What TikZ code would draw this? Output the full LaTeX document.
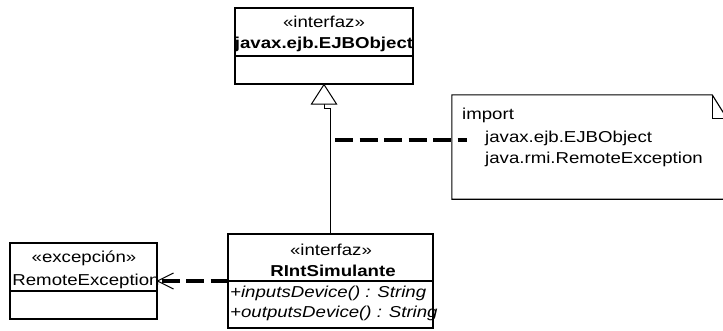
\documentclass[tikz,border=0pt]{standalone}
\usepackage{fontspec}
\setmainfont{Liberation Sans}[FakeStretch=1.18]
\usetikzlibrary{calc}

\begin{document}
\begin{tikzpicture}[x=1pt,y=-1pt,
  classbox/.style={draw, line width=1.1pt, inner sep=0pt},
  lbl/.style={inner sep=0pt, font=\fontsize{15.8}{19}\selectfont},
  rule/.style={line width=1.1pt},
  depline/.style={line width=4.5pt, dash pattern=on 18pt off 6.5pt},
  thin line/.style={line width=1pt}
]
\useasboundingbox (0,0) rectangle (723,330);
\fill[white] (0,0) rectangle (723,330);
\clip (0,0) rectangle (723,330);

% --- interface javax.ejb.EJBObject ---
\node[classbox, minimum width=178pt, minimum height=76pt] (ejb) at (324,46) {};
\draw[rule] (ejb.west |- 0,56) -- (ejb.east |- 0,56);
\node[lbl, anchor=base] (ejbst) at (324,27) {«interfaz»};
\node[lbl, anchor=base, font=\fontsize{15.8}{19}\selectfont\bfseries] (ejbname) at (324,48) {javax.ejb.EJBObject};

% --- interface RIntSimulante ---
\node[classbox, minimum width=205pt, minimum height=94pt] (rint) at (330.5,281) {};
\draw[rule] (rint.west) -- (rint.east);
\node[lbl, anchor=base] (rintst) at (331,255) {«interfaz»};
\node[lbl, anchor=base, font=\fontsize{15.8}{19}\selectfont\bfseries] (rintname) at (333,276) {RIntSimulante};
\node[lbl, anchor=base west, font=\fontsize{15.8}{19}\selectfont\itshape] (op1) at (230,297) {+inputsDevice() : String};
\node[lbl, anchor=base west, font=\fontsize{15.8}{19}\selectfont\itshape] (op2) at (230,317) {+outputsDevice() : String};

% --- exception RemoteException ---
\node[classbox, minimum width=147pt, minimum height=76pt] (exc) at (83.5,281) {};
\draw[rule] (exc.west |- 0,291) -- (exc.east |- 0,291);
\node[lbl, anchor=base] (excst) at (84,262) {«excepción»};
\node[lbl, anchor=base] (excname) at (86,285) {RemoteException};

% --- note with folded corner ---
\node[inner sep=0pt, minimum width=275pt, minimum height=104pt] (note) at (589.5,147) {};
\draw[rule] (note.north west) -- ([xshift=-15pt]note.north east)
  -- ([yshift=-24pt]note.north east) -- (note.south east)
  -- (note.south west) -- cycle;
\draw[rule] ([xshift=-15pt]note.north east) -- ([xshift=-15pt,yshift=-24pt]note.north east)
  -- ([yshift=-24pt]note.north east);
\node[lbl, anchor=base west] (imp) at (462,119) {import};
\node[lbl, anchor=base west] (imp1) at (485,142) {javax.ejb.EJBObject};
\node[lbl, anchor=base west] (imp2) at (485,163) {java.rmi.RemoteException};

% --- generalization RIntSimulante -> EJBObject ---
\coordinate (tb) at (324,104);
\coordinate (jog) at (331,108);
\draw[thin line] (rint.north) -- (rint.north |- jog) -- (tb |- jog) -- (tb);
\draw[thin line, fill=white] (ejb.south) -- ([xshift=-12.5pt]tb) -- ([xshift=12.5pt]tb) -- cycle;

% --- note anchor line ---
\coordinate (nc) at (335,140);
\draw[depline] (nc) -- ($(note.west |- nc)+(15,0)$);

% --- dependency RIntSimulante -> RemoteException ---
\draw[depline, dash phase=20.5pt] (exc.east) -- (rint.west);
\draw[thin line] ($(exc.east)+(16,-8)$) -- (exc.east) -- ($(exc.east)+(16,8)$);
\end{tikzpicture}
\end{document}
